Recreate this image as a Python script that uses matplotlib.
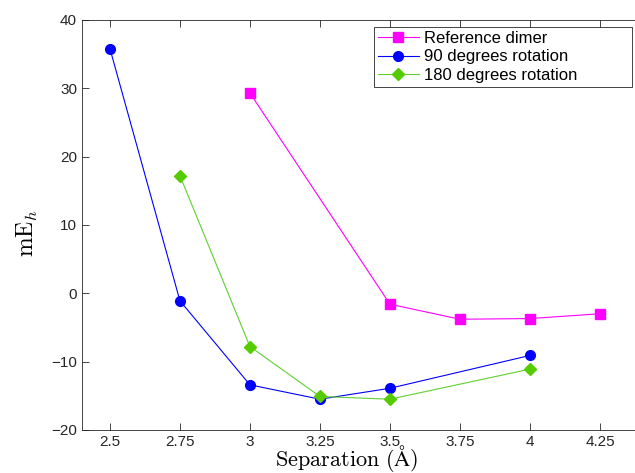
import matplotlib
matplotlib.use("Agg")
import matplotlib.pyplot as plt

# datos
x_ref = [3.0, 3.5, 3.75, 4.0, 4.25]
y_ref = [29.3, -1.6, -3.8, -3.7, -3.0]
x_90 = [2.5, 2.75, 3.0, 3.25, 3.5, 4.0]
y_90 = [35.8, -1.1, -13.4, -15.5, -13.9, -9.1]
x_180 = [2.75, 3.0, 3.25, 3.5, 4.0]
y_180 = [17.2, -7.8, -15.1, -15.5, -11.1]
xticks = [2.5, 2.75, 3, 3.25, 3.5, 3.75, 4, 4.25]
xticklabels = ["2.5", "2.75", "3", "3.25", "3.5", "3.75", "4", "4.25"]

plt.rcParams['font.family'] = ['Liberation Sans', 'DejaVu Sans']
plt.rcParams['mathtext.fontset'] = 'cm'
fig = plt.figure(figsize=(6.35, 4.73), dpi=100)
# el eje derecho queda fuera de la imagen (como en el original)
ax = fig.add_axes([0.129, 0.091, 0.882, 0.867])

ax.plot(x_ref, y_ref, color='#ff00ff', marker='s', ms=6.5, lw=0.8, label='Reference dimer')
ax.plot(x_90, y_90, color='#0000ff', marker='o', ms=7, lw=0.8, label='90 degrees rotation')
ax.plot(x_180, y_180, color='#5fd030', mfc='#55cc00', mec='#55cc00', marker='D', ms=6.5,
        lw=0.8, label='180 degrees rotation')

ax.set_xlim(2.4, 4.4)
ax.set_ylim(-20, 40)
ax.set_xticks(xticks)
ax.set_xticklabels(xticklabels)
ax.set_yticks(range(-20, 41, 10))
ax.tick_params(direction='in', top=True, right=True, labelsize=11, length=5, width=0.6,
               colors='#262626')
for s in ax.spines.values():
    s.set_linewidth(0.6)
    s.set_color('#262626')

ax.set_xlabel('$\\mathrm{Separation\\ (\\AA)}$', fontsize=16)
ax.xaxis.label.set_va('baseline')
ax.xaxis.set_label_coords(0.473, -0.087)
ax.set_ylabel('$\\mathrm{mE}_h$', fontsize=17)
ax.yaxis.label.set_va('center')
ax.yaxis.set_label_coords(-0.098, 0.48)

# leyenda ancha como en matlab
leg = ax.legend(loc='upper left', bbox_to_anchor=(0.521, 0.0, 0.461, 0.983), mode='expand',
                fontsize=12, fancybox=False, framealpha=1, edgecolor='#262626',
                borderpad=0.25, handlelength=2.45, handletextpad=0.3, labelspacing=0.2,
                borderaxespad=0.0)
leg.get_frame().set_linewidth(0.6)

fig.savefig('out.png', dpi=100)
